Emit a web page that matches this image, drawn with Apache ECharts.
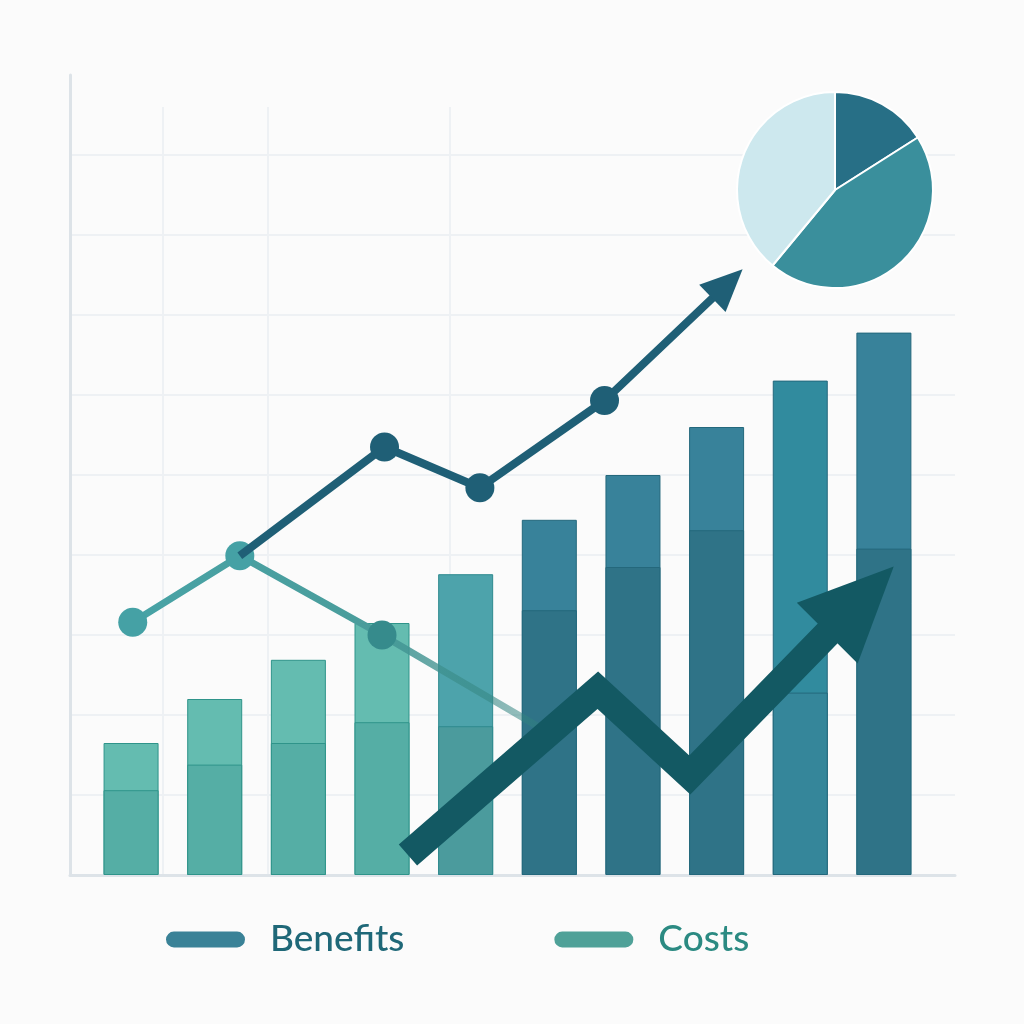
<!DOCTYPE html>
<html lang="en">
<head>
    <meta charset="UTF-8">
    <title>Benefits vs Costs</title>
    <style>
        html, body { margin: 0; padding: 0; background: #fbfbfb; }
        #chart { width: 1024px; height: 1024px; }
    </style>
</head>
<body>
    <div id="chart"></div>
    <script src="https://cdn.jsdelivr.net/npm/echarts@6/dist/echarts.min.js"></script>
    <script>
        // ---- data (x in category slots, y in chart units) ----
        var barPos = [0, 1, 2, 3, 4, 5, 6, 7, 8, 9];
        var barBase = [10.6, 13.8, 16.5, 19.1, 18.6, 33.1, 38.5, 43.1, 22.8, 40.8];
        var barTotal = [16.5, 22.0, 26.9, 31.5, 37.6, 44.4, 50.0, 56.0, 61.8, 67.8];

        var costsX = [0.02, 1.30, 3.00, 4.89];
        var costsY = [31.6, 39.9, 30.0, 18.4];

        var benefitsX = [1.30, 3.03, 4.17, 5.66, 7.13];
        var benefitsY = [39.9, 53.5, 48.4, 59.3, 73.9];

        var trendX = [3.31, 5.58, 6.68, 8.72];
        var trendY = [2.5, 23.1, 12.5, 34.4];

        var pieNames = ['A', 'B', 'C'];
        var pieValues = [16, 45, 39];

        var vGuides = [0.38, 1.64, 3.81];

        // colours per bar
        var baseColors = ['#55aea5', '#55aea5', '#55aea5', '#55aea5', '#4b9b9d',
            '#2f7387', '#2f7387', '#2f7387', '#35869a', '#2f7387'];
        var topColors = ['#64bcb0', '#64bcb0', '#64bcb0', '#64bcb0', '#4da3ab',
            '#38829a', '#38829a', '#38829a', '#318b9e', '#38829a'];
        var edgeColors = ['#2f948a', '#2f948a', '#2f948a', '#2f948a', '#2f8a8f',
            '#24687c', '#24687c', '#24687c', '#24687c', '#24687c'];

        function pts(xs, ys) {
            return xs.map(function (x, i) { return [x, ys[i]]; });
        }

        var chart = echarts.init(document.getElementById('chart'));

        // full bar in the light colour, lower part drawn over it in the darker colour
        var totalData = barPos.map(function (x, i) {
            return { value: [x, barTotal[i]], itemStyle: { color: topColors[i], borderColor: edgeColors[i] } };
        });
        var baseData = barPos.map(function (x, i) {
            return { value: [x, barBase[i]], itemStyle: { color: baseColors[i], borderColor: edgeColors[i] } };
        });

        var costsData = pts(costsX, costsY).map(function (p, i, arr) {
            if (i === arr.length - 1) return { value: p, symbol: 'none' };
            if (i === 2) return { value: p, itemStyle: { color: '#368b8c' } };
            return { value: p };
        });

        var benefitsData = pts(benefitsX, benefitsY).map(function (p, i, arr) {
            if (i === 0) return { value: p, symbol: 'none' };
            if (i === arr.length - 1) return { value: p, symbol: 'triangle', symbolSize: [38, 42], symbolRotate: -46 };
            return { value: p };
        });

        var trendData = pts(trendX, trendY).map(function (p, i, arr) {
            if (i === arr.length - 1) return { value: p, symbol: 'triangle', symbolSize: [86, 94], symbolRotate: -45 };
            return { value: p, symbol: 'none' };
        });

        var pill = 'path://M8,0 H72 A8,8 0 0 1 72,16 H8 A8,8 0 0 1 8,0 Z';

        var option = {
            backgroundColor: '#fbfbfb',
            animation: false,
            grid: { left: 70, right: 69, top: 75, bottom: 149 },
            xAxis: {
                type: 'value',
                min: -0.73,
                max: 9.85,
                axisLine: { show: true, onZero: false, lineStyle: { color: '#dde3e8', width: 3 } },
                axisTick: { show: false },
                axisLabel: { show: false },
                splitLine: { show: false }
            },
            yAxis: {
                type: 'value',
                min: 0,
                max: 100,
                interval: 10,
                axisLine: { show: true, onZero: false, lineStyle: { color: '#dde3e8', width: 3 } },
                axisTick: { show: false },
                axisLabel: { show: false },
                splitLine: { show: true, showMaxLine: false, lineStyle: { color: '#eef1f4', width: 2 } }
            },
            legend: {
                left: 161,
                top: 916,
                icon: pill,
                itemWidth: 79,
                itemHeight: 17,
                itemGap: 150,
                textStyle: {
                    fontFamily: 'Lato',
                    fontSize: 37,
                    fontWeight: 500,
                    padding: [0, 0, 0, 20]
                },
                data: [
                    { name: 'Benefits', itemStyle: { color: '#3a8297' }, textStyle: { color: '#1f6878' } },
                    { name: 'Costs', itemStyle: { color: '#4fa198' }, textStyle: { color: '#2b8a82' } }
                ]
            },
            series: [
                {
                    // faint vertical guides behind the bars
                    name: 'guides',
                    type: 'line',
                    data: [[vGuides[0], 0]],
                    symbol: 'none',
                    lineStyle: { width: 0 },
                    markLine: {
                        silent: true,
                        z: 0,
                        symbol: 'none',
                        label: { show: false },
                        lineStyle: { color: '#eef1f4', width: 2, type: 'solid' },
                        data: vGuides.map(function (v) { return [{ coord: [v, 0] }, { coord: [v, 96] }]; })
                    },
                    z: 0
                },
                {
                    name: 'total',
                    type: 'bar',
                    barWidth: 55,
                    barGap: '-100%',
                    itemStyle: { borderWidth: 1 },
                    data: totalData,
                    z: 2
                },
                {
                    name: 'base',
                    type: 'bar',
                    barWidth: 55,
                    barGap: '-100%',
                    itemStyle: { borderWidth: 1 },
                    data: baseData,
                    z: 2
                },
                {
                    name: 'Costs',
                    type: 'line',
                    data: costsData,
                    symbol: 'circle',
                    symbolSize: 29,
                    lineStyle: {
                        width: 7,
                        color: {
                            type: 'linear', x: 0, y: 0, x2: 1, y2: 0,
                            colorStops: [
                                { offset: 0, color: '#48a3a6' },
                                { offset: 0.55, color: '#4a9d9c' },
                                { offset: 1, color: 'rgba(47,128,124,0.45)' }
                            ]
                        }
                    },
                    itemStyle: { color: '#45a1a5' },
                    z: 3
                },
                {
                    name: 'Benefits',
                    type: 'line',
                    data: benefitsData,
                    symbol: 'circle',
                    symbolSize: 29,
                    lineStyle: { width: 8, color: '#1f5f76' },
                    itemStyle: { color: '#1f5f76' },
                    z: 4
                },
                {
                    name: 'trend',
                    type: 'line',
                    data: trendData,
                    lineStyle: { width: 28, color: '#135963', join: 'miter' },
                    itemStyle: { color: '#135963' },
                    z: 5
                },
                {
                    name: 'share',
                    type: 'pie',
                    center: [835, 190],
                    radius: 98,
                    startAngle: 90,
                    label: { show: false },
                    labelLine: { show: false },
                    itemStyle: { borderColor: '#ffffff', borderWidth: 2 },
                    data: pieNames.map(function (n, i) {
                        return {
                            name: n, value: pieValues[i],
                            itemStyle: { color: ['#276f86', '#3a8f9c', '#cde8ee'][i] }
                        };
                    }),
                    z: 6
                }
            ]
        };

        chart.setOption(option, true);
    </script>
</body>
</html>
